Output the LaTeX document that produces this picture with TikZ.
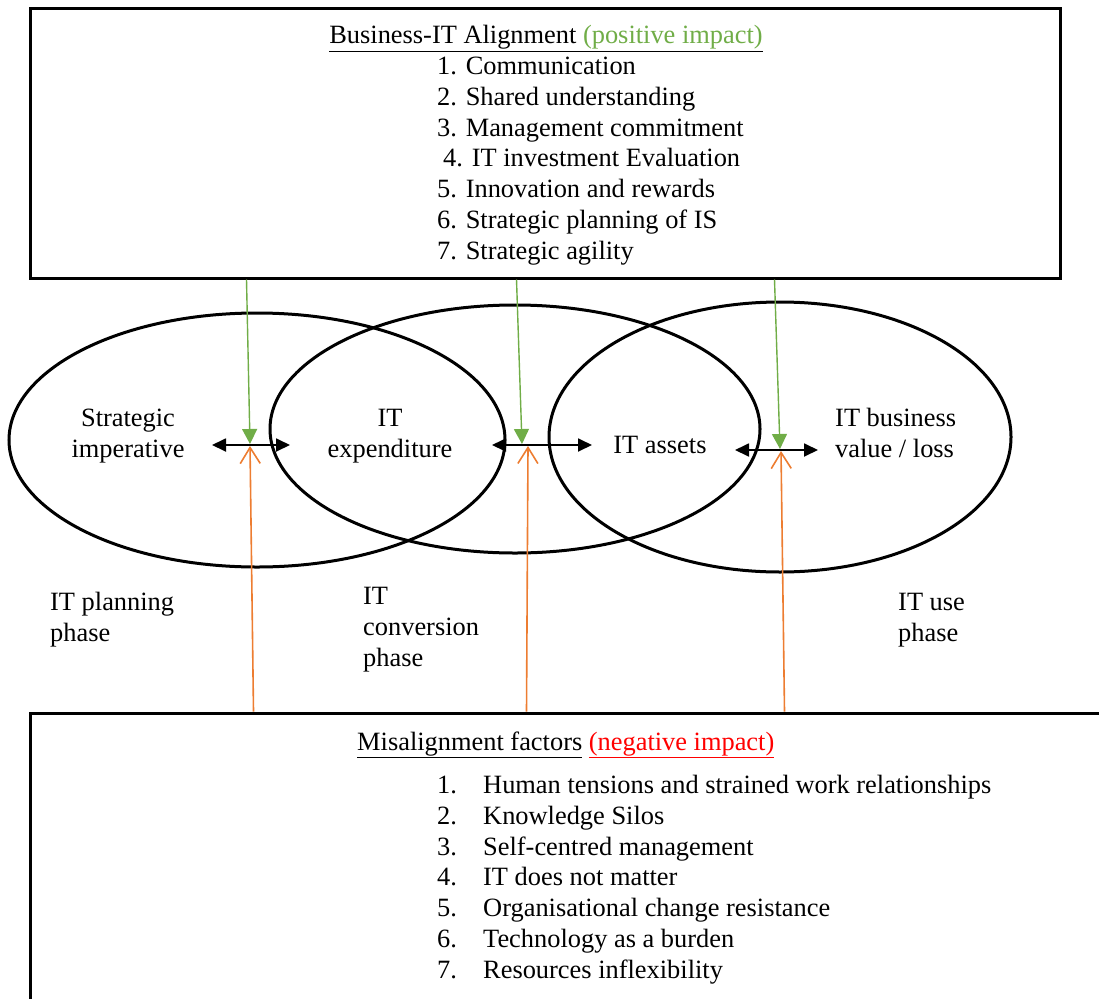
\documentclass[tikz,border=0pt]{standalone}
\usepackage{fontspec}
\setmainfont{Liberation Serif}
\usetikzlibrary{shapes.geometric,arrows.meta}
\definecolor{posgreen}{RGB}{112,173,71}
\definecolor{negorange}{RGB}{237,125,49}
\definecolor{negred}{RGB}{255,0,0}

\begin{document}
\begin{tikzpicture}[x=1pt, y=-1pt,
    every node/.style={font=\fontsize{26.4pt}{30.7pt}\selectfont, inner sep=0pt},
    factorbox/.style={draw, rectangle, line width=3pt},
    phase/.style={draw, ellipse, line width=3pt},
    link/.style={{Triangle[length=14pt,width=13pt]}-{Triangle[length=14pt,width=13pt]}, line width=1.8pt},
    posarrow/.style={-{Triangle[length=15pt,width=15pt]}, posgreen, line width=1.4pt},
    negarrow/.style={-{Straight Barb[length=16pt,width=20pt]}, negorange, line width=1.6pt}]
  \useasboundingbox (0,0) rectangle (1099,998);
  \clip (0,0) rectangle (1099,998);

  % boxes
  \node[factorbox, minimum width=1030pt, minimum height=269pt] (alignbox) at (545,143.5) {};
  \node[factorbox, minimum width=1100pt, minimum height=320pt] (misbox) at (580,873) {};

  % phases
  \node[phase, minimum width=496pt, minimum height=254pt] (planning) at (257,440) {};
  \node[phase, minimum width=490pt, minimum height=248pt] (conversion) at (515,429) {};
  \node[phase, minimum width=462pt, minimum height=270pt] (use) at (780,437) {};

  % texts in the top box (base = last line)
  \node[anchor=base] (aligntitle) at (546,44)
    {\underline{Business-IT Alignment \textcolor{posgreen}{(positive impact)}}};
  \node[anchor=base west, align=left] (alignlist) at (437,259)
    {1. Communication\\
     2. Shared understanding\\
     3. Management commitment\\
     \hspace{6pt}4. IT investment Evaluation\\
     5. Innovation and rewards\\
     6. Strategic planning of IS\\
     7. Strategic agility};

  % texts in the phases
  \node[anchor=base, align=center] (strat) at (128,457) {Strategic\\imperative};
  \node[anchor=base, align=center] (expend) at (390,457) {IT\\expenditure};
  \node[anchor=base] (assets) at (660,453) {IT assets};
  \node[anchor=base west, align=left] (value) at (835,457) {IT business\\value / loss};

  \node[anchor=base west, align=left] (planlbl) at (50,641) {IT planning\\phase};
  \node[anchor=base west, align=left] (convlbl) at (363,666) {IT\\conversion\\phase};
  \node[anchor=base west, align=left] (uselbl) at (898,641) {IT use\\phase};

  % texts in the bottom box
  \node[anchor=base west] (mistitle) at (357,750)
    {\underline{Misalignment factors} \textcolor{negred}{\underline{(negative impact)}}};
  \node[anchor=base west, align=left] (mislist) at (437,978)
    {\makebox[46pt][l]{1.}Human tensions and strained work relationships\\
     \makebox[46pt][l]{2.}Knowledge Silos\\
     \makebox[46pt][l]{3.}Self-centred management\\
     \makebox[46pt][l]{4.}IT does not matter\\
     \makebox[46pt][l]{5.}Organisational change resistance\\
     \makebox[46pt][l]{6.}Technology as a burden\\
     \makebox[46pt][l]{7.}Resources inflexibility};

  % meeting points
  \coordinate (hit1) at (250,445);
  \coordinate (hit2) at (524,445);
  \coordinate (hit3) at (780,450);

  \coordinate (l1a) at (212,445);
  \coordinate (l1b) at (290,445);
  \coordinate (l2a) at (492,445);
  \coordinate (l2b) at (592,445);
  \coordinate (l3a) at (735,450);
  \coordinate (l3b) at (818,450);

  \draw[link] (l1a) -- (l1b);
  \draw[link] (l2a) -- (l2b);
  \draw[link] (l3a) -- (l3b);

  \draw[posarrow] ([xshift=218pt]alignbox.south west) -- ([yshift=1pt]hit1);
  \draw[posarrow] ([xshift=488pt]alignbox.south west) -- ([yshift=1pt,xshift=-2pt]hit2);
  \draw[posarrow] ([xshift=746pt]alignbox.south west) -- ([yshift=1pt]hit3);

  \draw[negarrow] ([xshift=225pt]misbox.north west) -- ([yshift=-1pt]hit1);
  \draw[negarrow] ([xshift=498pt]misbox.north west) -- ([yshift=-1pt,xshift=4pt]hit2);
  \draw[negarrow] ([xshift=756pt]misbox.north west) -- ([yshift=-1pt,xshift=1pt]hit3);
\end{tikzpicture}
\end{document}
